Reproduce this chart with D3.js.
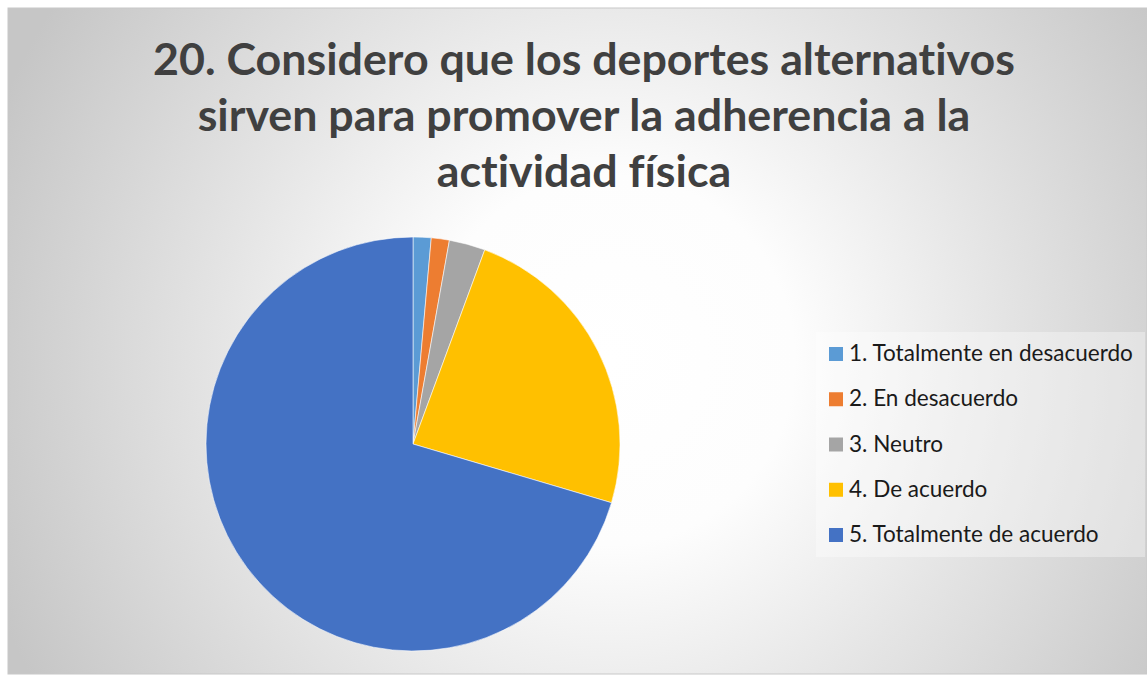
<!DOCTYPE html>
<html>
<head>
<meta charset="utf-8">
<script src="https://cdn.jsdelivr.net/npm/d3@7"></script>
<style>
  html, body { margin: 0; padding: 0; background: #ffffff; }
  svg { display: block; }
  text { font-variant-ligatures: none; font-feature-settings: "liga" 0, "clig" 0; }
</style>
</head>
<body>
<svg id="chart" width="1147" height="675"></svg>
<script>
// Survey answers for item 20 (number of respondents per option)
const categories = [
  "1. Totalmente en desacuerdo",
  "2. En desacuerdo",
  "3. Neutro",
  "4. De acuerdo",
  "5. Totalmente de acuerdo"
];
const counts = [1, 1, 2, 17, 50];
const colors = ["#5B9BD5", "#ED7D31", "#A5A5A5", "#FFC000", "#4472C4"];
const titleLines = [
  "20. Considero que los deportes alternativos",
  "sirven para promover la adherencia a la",
  "actividad física"
];

const W = 1147, H = 675;
const svg = d3.select("#chart");
const defs = svg.append("defs");

// Chart area background: soft radial gradient, white in the middle, grey at the edges
const grad = defs.append("radialGradient")
  .attr("id", "bg")
  .attr("gradientUnits", "userSpaceOnUse")
  .attr("cx", 610).attr("cy", 360).attr("r", 660);
grad.append("stop").attr("offset", "0%").attr("stop-color", "#ffffff");
grad.append("stop").attr("offset", "28%").attr("stop-color", "#fdfdfd");
grad.append("stop").attr("offset", "60%").attr("stop-color", "#e4e4e4");
grad.append("stop").attr("offset", "100%").attr("stop-color", "#c6c6c6");

svg.append("rect")
  .attr("x", 8).attr("y", 8)
  .attr("width", W - 8).attr("height", 666)
  .attr("fill", "url(#bg)")
  .attr("stroke", "#c8c8c8").attr("stroke-width", 1);

// Title, three centred lines in bold dark grey
const fontFamily = "Lato, 'Open Sans', 'Liberation Sans', sans-serif";
const title = svg.append("g").attr("class", "title");
const titleY = [75, 131, 187];
const titleText = title.selectAll("text")
  .data(titleLines)
  .join("text")
  .attr("x", 584)
  .attr("y", (d, i) => titleY[i])
  .attr("text-anchor", "middle")
  .attr("font-family", fontFamily)
  .attr("font-weight", "bold")
  .attr("font-size", 40)
  .attr("fill", "#404040")
  .text(d => d);
// size the title so the first line spans its usual width
{
  const w = titleText.nodes()[0].getComputedTextLength();
  const fs = 40 * 862 / w;
  titleText.attr("font-size", fs);
}

// Pie
const cx = 413, cy = 444, R = 207;
const pie = d3.pie().sort(null).value(d => d)(counts);
const arc = d3.arc().innerRadius(0).outerRadius(R);
svg.append("g")
  .attr("transform", `translate(${cx},${cy})`)
  .selectAll("path")
  .data(pie)
  .join("path")
  .attr("d", arc)
  .attr("fill", (d, i) => colors[i])
  .attr("stroke", "#ffffff")
  .attr("stroke-width", 0.8)
  .attr("stroke-opacity", 0.7);

// Legend with a light panel behind it
const legend = svg.append("g").attr("class", "legend");
legend.append("rect")
  .attr("x", 816).attr("y", 332)
  .attr("width", 329).attr("height", 225)
  .attr("fill", "#ffffff").attr("fill-opacity", 0.35);

const rowY = d3.scalePoint().domain(categories).range([361, 542]);
const rows = legend.selectAll("g.row")
  .data(categories)
  .join("g")
  .attr("class", "row");
rows.append("rect")
  .attr("x", 829)
  .attr("y", d => rowY(d) - 14)
  .attr("width", 14).attr("height", 14)
  .attr("fill", (d, i) => colors[i]);
const labels = rows.append("text")
  .attr("x", 849)
  .attr("y", d => rowY(d))
  .attr("font-family", fontFamily)
  .attr("font-size", 20)
  .attr("fill", "#1a1a1a")
  .text(d => d);
{
  const w = labels.nodes()[0].getComputedTextLength();
  labels.attr("font-size", 20 * 284 / w);
}
</script>
</body>
</html>
